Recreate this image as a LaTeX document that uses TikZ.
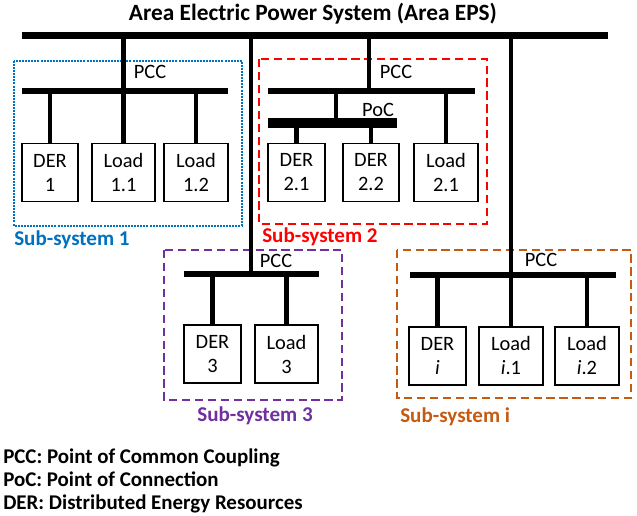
\documentclass[tikz,border=0pt]{standalone}
\usepackage{fontspec}
\setmainfont{Carlito}
\usetikzlibrary{calc}
\definecolor{sysblue}{RGB}{0,112,192}
\definecolor{sysred}{RGB}{255,0,0}
\definecolor{syspurple}{RGB}{112,48,160}
\definecolor{sysorange}{RGB}{197,90,17}
\begin{document}
\begin{tikzpicture}[x=0.75pt,y=-0.75pt,
  font=\fontsize{15.3}{18}\selectfont,
  bus/.style={fill=black,inner sep=0pt,minimum height=5pt},
  mainbus/.style={fill=black,inner sep=0pt,minimum height=5.4pt},
  pocbus/.style={fill=black,inner sep=0pt,minimum height=6.8pt},
  drop/.style={line width=3.2pt},
  unit/.style={draw,line width=1.4pt,minimum height=43.5pt,inner sep=0pt,align=center},
  derbox/.style={unit,minimum width=42.5pt},
  loadbox/.style={unit,minimum width=47.5pt},
  sysframe/.style={line width=2pt,dash pattern=on 6.2pt off 3.5pt},
  syslabel/.style={font=\fontsize{15.8}{18}\selectfont\bfseries,inner sep=0pt},
  lbl/.style={inner sep=0pt,anchor=base},
  legend/.style={font=\fontsize{15.7}{18}\selectfont\bfseries,inner sep=0pt,anchor=base west}
]
\useasboundingbox (0,0) rectangle (637,516);

% title and main bus
\node[font=\fontsize{17.5}{20}\selectfont\bfseries,inner sep=0pt,anchor=base] (title) at (313,21) {Area Electric Power System (Area EPS)};
\node[mainbus,minimum width=439.5pt] (eps) at (315,35.5) {};

% ---------- Sub-system 1
\draw[sysblue,line width=1.9pt,dash pattern=on 1.5pt off 0.8pt] (14,61) rectangle (242,226);
\node[syslabel,text=sysblue,anchor=base west] (s1) at (14,246) {Sub-system 1};
\node[bus,minimum width=154.5pt] (pcc1) at (125,91) {};
\node[lbl] (pcc1l) at (150,79) {PCC};
\node[derbox] (der1) at (50,172.5) {DER\\1};
\node[loadbox] (load11) at (123.5,172.5) {Load\\1.1};
\node[loadbox] (load12) at (196,172.5) {Load\\1.2};
\draw[drop] (eps.center -| load11) -- (pcc1.center -| load11);
\foreach \b in {der1,load11,load12} \draw[drop] (pcc1.center -| \b.north) -- (\b.north);

% ---------- Sub-system 2
\draw[sysred,sysframe] (259,59) rectangle (487,224);
\node[syslabel,text=sysred,anchor=base west] (s2) at (262,243) {Sub-system 2};
\node[bus,minimum width=155pt] (pcc2) at (371.5,91) {};
\node[lbl] (pcc2l) at (396,79) {PCC};
\coordinate (c2) at (369,0);
\draw[drop] (eps.center -| c2) -- (pcc2.center -| c2);
\node[pocbus,minimum width=96.5pt] (poc) at (332.5,123) {};
\node[lbl] (pocl) at (378,117) {PoC};
\coordinate (c2p) at (336,0);
\draw[drop] (pcc2.center -| c2p) -- (poc.center -| c2p);
\node[derbox] (der21) at (296.5,172.5) {DER\\2.1};
\node[derbox] (der22) at (371,172.5) {DER\\2.2};
\node[loadbox] (load21) at (446,172.5) {Load\\2.1};
\foreach \b in {der21,der22} \draw[drop] (poc.center -| \b.north) -- (\b.north);
\draw[drop] (pcc2.center -| load21.north) -- (load21.north);

% ---------- Sub-system 3
\draw[syspurple,sysframe] (164,250) rectangle (342,400);
\node[syslabel,text=syspurple,anchor=base] (s3) at (255,422) {Sub-system 3};
\node[bus,minimum width=101pt] (pcc3) at (251.5,274) {};
\node[lbl] (pcc3l) at (276,268) {PCC};
\coordinate (c3) at (251,0);
\draw[drop] (eps.center -| c3) -- (pcc3.center -| c3);
\node[derbox] (der3) at (212.5,354) {DER\\3};
\node[loadbox] (load3) at (286.5,354) {Load\\3};
\foreach \b in {der3,load3} \draw[drop] (pcc3.center -| \b.north) -- (\b.north);

% ---------- Sub-system i
\draw[sysorange,sysframe] (397,250) rectangle (631,398);
\node[syslabel,text=sysorange,anchor=base west] (si) at (400,423) {Sub-system i};
\node[bus,minimum width=154.5pt] (pcci) at (513,275) {};
\node[lbl] (pccil) at (541,267) {PCC};
\node[derbox] (deri) at (437.5,356) {DER\\\textit{i}};
\node[loadbox] (loadi1) at (511,356) {Load\\\textit{i}.1};
\node[loadbox] (loadi2) at (587,356) {Load\\\textit{i}.2};
\draw[drop] (eps.center -| loadi1) -- (pcci.center -| loadi1);
\foreach \b in {deri,loadi1,loadi2} \draw[drop] (pcci.center -| \b.north) -- (\b.north);

% ---------- legend
\node[legend] (leg1) at (3,464) {PCC: Point of Common Coupling};
\node[legend] (leg2) at (3,487) {PoC: Point of Connection};
\node[legend] (leg3) at (3,510) {DER: Distributed Energy Resources};
\end{tikzpicture}
\end{document}
